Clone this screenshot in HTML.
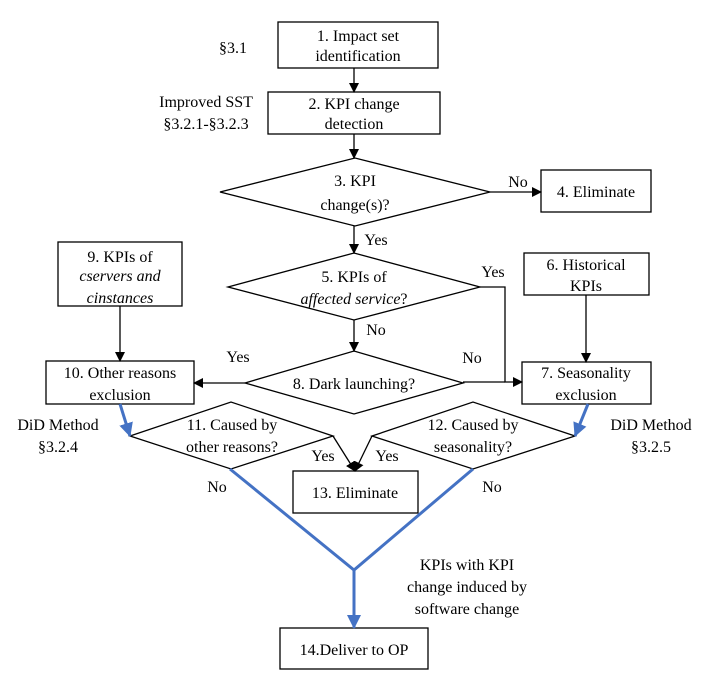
<!DOCTYPE html>
<html><head><meta charset="utf-8"><style>
html,body{margin:0;padding:0;background:#fff;}
svg, svg text{font-family:"Liberation Serif","Times New Roman","DejaVu Serif",serif;font-size:16px;fill:#000;}
</style></head><body>
<svg width="707" height="690" viewBox="0 0 707 690" xmlns="http://www.w3.org/2000/svg" font-family="Liberation Serif, Times New Roman, DejaVu Serif, serif">
<defs>
<marker id="a" markerWidth="10" markerHeight="10" refX="9" refY="5" orient="auto" markerUnits="userSpaceOnUse"><path d="M0,0 L10,5 L0,10 z" fill="#000"/></marker>
<marker id="b" markerWidth="14" markerHeight="14" refX="13" refY="7" orient="auto" markerUnits="userSpaceOnUse"><path d="M0,0 L14,7 L0,14 z" fill="#4472C4"/></marker>
</defs>
<g fill="#fff" stroke="#000" stroke-width="1.3">
<rect x="278" y="22" width="160" height="46"/>
<rect x="268" y="92" width="172" height="42"/>
<polygon points="220,192 355,158 490,192 355,226"/>
<rect x="541" y="170" width="110" height="42"/>
<polygon points="228,287 354,253 480,287 354,320"/>
<rect x="58" y="242" width="124" height="64"/>
<rect x="524" y="253" width="125" height="42"/>
<polygon points="245,383 354,351 463,383 354,414"/>
<rect x="46" y="361" width="148" height="43"/>
<rect x="522" y="362" width="129" height="42"/>
<polygon points="130,436 231,402 333,436 231,469"/>
<polygon points="372,436 473,402 575,436 473,469"/>
<rect x="293" y="471" width="125" height="42"/>
<rect x="280" y="628" width="148" height="41"/>
</g>
<g stroke="#000" stroke-width="1.3" fill="none">
<line x1="354" y1="68" x2="354" y2="92" marker-end="url(#a)"/>
<line x1="354" y1="134" x2="354" y2="158" marker-end="url(#a)"/>
<line x1="490" y1="192" x2="541" y2="192" marker-end="url(#a)"/>
<line x1="354" y1="226" x2="354" y2="253" marker-end="url(#a)"/>
<polyline points="480,287 505,287 505,382 522,382" marker-end="url(#a)"/>
<line x1="463" y1="382" x2="505" y2="382"/>
<line x1="586" y1="295" x2="586" y2="362" marker-end="url(#a)"/>
<line x1="354" y1="320" x2="354" y2="351" marker-end="url(#a)"/>
<line x1="245" y1="383" x2="194" y2="383" marker-end="url(#a)"/>
<line x1="120" y1="306" x2="120" y2="361" marker-end="url(#a)"/>
<line x1="333" y1="436" x2="355" y2="471" marker-end="url(#a)"/>
<line x1="372" y1="436" x2="355" y2="471" marker-end="url(#a)"/>
</g>
<g stroke="#4472C4" stroke-width="3" fill="none">
<line x1="120" y1="404" x2="130" y2="436" marker-end="url(#b)"/>
<line x1="588" y1="404" x2="575" y2="436" marker-end="url(#b)"/>
<polyline points="230,469 354,570 473,469"/>
<line x1="354" y1="570" x2="354" y2="628" marker-end="url(#b)"/>
</g>
<g text-anchor="middle">
<text x="358" y="41">1. Impact set</text>
<text x="358" y="61">identification</text>
<text x="233" y="53">§3.1</text>
<text x="206" y="107">Improved SST</text>
<text x="206" y="129">§3.2.1-§3.2.3</text>
<text x="354" y="109">2. KPI change</text>
<text x="354" y="129">detection</text>
<text x="355" y="186">3. KPI</text>
<text x="355" y="210">change(s)?</text>
<text x="518" y="187">No</text>
<text x="596" y="197">4. Eliminate</text>
<text x="376" y="245">Yes</text>
<text x="354" y="282">5. KPIs of</text>
<text x="354" y="304"><tspan font-style="italic">affected service</tspan>?</text>
<text x="493" y="277">Yes</text>
<text x="120" y="262">9. KPIs of</text>
<text x="120" y="281" font-style="italic">cservers and</text>
<text x="120" y="303" font-style="italic">cinstances</text>
<text x="586" y="270">6. Historical</text>
<text x="586" y="291">KPIs</text>
<text x="376" y="335">No</text>
<text x="354" y="389">8. Dark launching?</text>
<text x="238" y="362">Yes</text>
<text x="472" y="363">No</text>
<text x="120" y="378">10. Other reasons</text>
<text x="120" y="400">exclusion</text>
<text x="586" y="378">7. Seasonality</text>
<text x="586" y="400">exclusion</text>
<text x="58" y="430">DiD Method</text>
<text x="58" y="452">§3.2.4</text>
<text x="651" y="430">DiD Method</text>
<text x="651" y="452">§3.2.5</text>
<text x="232" y="430">11. Caused by</text>
<text x="232" y="452">other reasons?</text>
<text x="473" y="430">12. Caused by</text>
<text x="473" y="452">seasonality?</text>
<text x="323" y="461">Yes</text>
<text x="387" y="461">Yes</text>
<text x="217" y="492">No</text>
<text x="492" y="492">No</text>
<text x="355" y="498">13. Eliminate</text>
<text x="467" y="570">KPIs with KPI</text>
<text x="467" y="592">change induced by</text>
<text x="467" y="614">software change</text>
<text x="354" y="655">14.Deliver to OP</text>
</g>
</svg>
</body></html>
